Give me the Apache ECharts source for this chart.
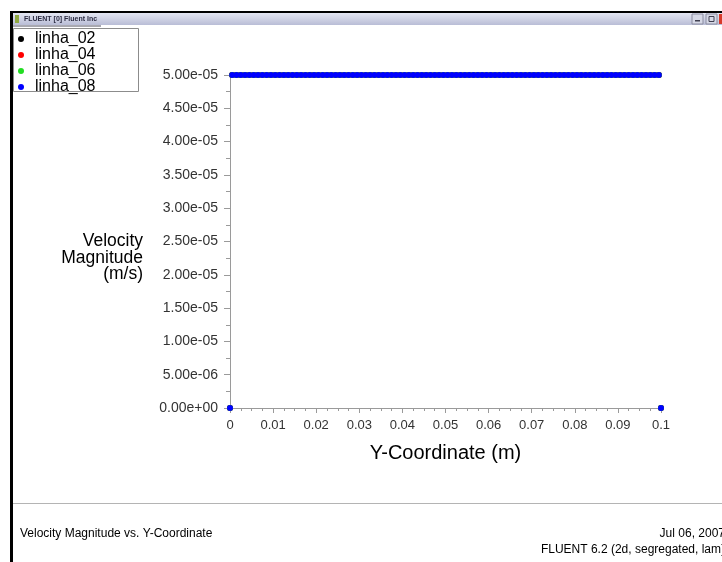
<!DOCTYPE html>
<html>
<head>
<meta charset="utf-8">
<script src="https://cdn.jsdelivr.net/npm/echarts@6/dist/echarts.min.js"></script>
<style>
  html, body { margin: 0; padding: 0; background: #ffffff; }
  #chart { width: 722px; height: 562px; }
</style>
</head>
<body>
<div id="chart"></div>
<script>
// Series shown in the XY plot (all four lines share the same profile; linha_08 is drawn last)
const seriesNames = ['linha_02', 'linha_04', 'linha_06', 'linha_08'];
const seriesColors = ['#000000', '#ff0000', '#22dd22', '#0000ff'];

// Y-coordinate of the wall nodes and cell centres (m)
const yCoord = [
  0,
  0.0005, 0.0015, 0.0025, 0.0035, 0.0045, 0.0055, 0.0065, 0.0075, 0.0085, 0.0095,
  0.0105, 0.0115, 0.0125, 0.0135, 0.0145, 0.0155, 0.0165, 0.0175, 0.0185, 0.0195,
  0.0205, 0.0215, 0.0225, 0.0235, 0.0245, 0.0255, 0.0265, 0.0275, 0.0285, 0.0295,
  0.0305, 0.0315, 0.0325, 0.0335, 0.0345, 0.0355, 0.0365, 0.0375, 0.0385, 0.0395,
  0.0405, 0.0415, 0.0425, 0.0435, 0.0445, 0.0455, 0.0465, 0.0475, 0.0485, 0.0495,
  0.0505, 0.0515, 0.0525, 0.0535, 0.0545, 0.0555, 0.0565, 0.0575, 0.0585, 0.0595,
  0.0605, 0.0615, 0.0625, 0.0635, 0.0645, 0.0655, 0.0665, 0.0675, 0.0685, 0.0695,
  0.0705, 0.0715, 0.0725, 0.0735, 0.0745, 0.0755, 0.0765, 0.0775, 0.0785, 0.0795,
  0.0805, 0.0815, 0.0825, 0.0835, 0.0845, 0.0855, 0.0865, 0.0875, 0.0885, 0.0895,
  0.0905, 0.0915, 0.0925, 0.0935, 0.0945, 0.0955, 0.0965, 0.0975, 0.0985, 0.0995,
  0.1
];

// Velocity magnitude at each node (m/s): zero on the walls, uniform inside
const velocity = [
  0,
  5e-5, 5e-5, 5e-5, 5e-5, 5e-5, 5e-5, 5e-5, 5e-5, 5e-5, 5e-5,
  5e-5, 5e-5, 5e-5, 5e-5, 5e-5, 5e-5, 5e-5, 5e-5, 5e-5, 5e-5,
  5e-5, 5e-5, 5e-5, 5e-5, 5e-5, 5e-5, 5e-5, 5e-5, 5e-5, 5e-5,
  5e-5, 5e-5, 5e-5, 5e-5, 5e-5, 5e-5, 5e-5, 5e-5, 5e-5, 5e-5,
  5e-5, 5e-5, 5e-5, 5e-5, 5e-5, 5e-5, 5e-5, 5e-5, 5e-5, 5e-5,
  5e-5, 5e-5, 5e-5, 5e-5, 5e-5, 5e-5, 5e-5, 5e-5, 5e-5, 5e-5,
  5e-5, 5e-5, 5e-5, 5e-5, 5e-5, 5e-5, 5e-5, 5e-5, 5e-5, 5e-5,
  5e-5, 5e-5, 5e-5, 5e-5, 5e-5, 5e-5, 5e-5, 5e-5, 5e-5, 5e-5,
  5e-5, 5e-5, 5e-5, 5e-5, 5e-5, 5e-5, 5e-5, 5e-5, 5e-5, 5e-5,
  5e-5, 5e-5, 5e-5, 5e-5, 5e-5, 5e-5, 5e-5, 5e-5, 5e-5, 5e-5,
  0
];

// Axis ranges and steps
const xRange = { min: 0, max: 0.1, step: 0.01 };
const yRange = { min: 0, max: 5e-5, step: 5e-6 };

// Axis titles
const xTitle = 'Y-Coordinate (m)';
const yTitle = 'Velocity\nMagnitude\n(m/s)';

const FONT = '"Liberation Sans", Arial, Helvetica, sans-serif';
const AXIS_GREY = '#9a9a9a';

// FLUENT-style exponent labels: 5.00e-05, 0.00e+00
function sciLabel(v) {
  const parts = Number(v).toExponential(2).split('e');
  const sign = parts[1].charAt(0) === '-' ? '-' : '+';
  let digits = parts[1].replace(/[+-]/, '');
  if (digits.length < 2) digits = '0' + digits;
  return parts[0] + 'e' + sign + digits;
}

const points = yCoord.map((y, i) => [y, velocity[i]]);

const chart = echarts.init(document.getElementById('chart'), null, { renderer: 'canvas' });

chart.setOption({
  backgroundColor: '#ffffff',
  animation: false,
  textStyle: { fontFamily: FONT },
  grid: { left: 230, right: 61, top: 75, bottom: 154, containLabel: false },
  legend: {
    orient: 'vertical',
    left: 18,
    top: 31,
    padding: 0,
    itemGap: 0,
    itemWidth: 18,
    itemHeight: 6,
    icon: 'circle',
    selectedMode: false,
    textStyle: { fontFamily: FONT, fontSize: 16, lineHeight: 15, color: '#000000' },
    data: seriesNames
  },
  xAxis: {
    type: 'value',
    min: xRange.min,
    max: xRange.max,
    interval: xRange.step,
    name: xTitle,
    nameLocation: 'middle',
    nameGap: 35,
    nameTextStyle: { fontFamily: FONT, fontSize: 20, color: '#000000' },
    axisLine: { show: true, onZero: false, lineStyle: { color: AXIS_GREY, width: 1 } },
    axisTick: { show: true, inside: false, length: 5, lineStyle: { color: AXIS_GREY } },
    minorTick: { show: true, splitNumber: 4, length: 3, lineStyle: { color: AXIS_GREY } },
    axisLabel: { fontFamily: FONT, fontSize: 13, color: '#333333', margin: 11 },
    splitLine: { show: false },
    minorSplitLine: { show: false }
  },
  yAxis: {
    type: 'value',
    min: yRange.min,
    max: yRange.max,
    interval: yRange.step,
    axisLine: { show: true, onZero: false, lineStyle: { color: AXIS_GREY, width: 1 } },
    axisTick: { show: true, inside: false, length: 6, lineStyle: { color: AXIS_GREY } },
    minorTick: { show: true, splitNumber: 2, length: 4, lineStyle: { color: AXIS_GREY } },
    axisLabel: { fontFamily: FONT, fontSize: 14, color: '#333333', margin: 12, formatter: sciLabel },
    splitLine: { show: false },
    minorSplitLine: { show: false }
  },
  series: seriesNames.map((name, i) => ({
    name: name,
    type: 'scatter',
    data: points,
    symbol: 'circle',
    symbolSize: 6,
    clip: false,
    itemStyle: { color: seriesColors[i], opacity: 1 },
    emphasis: { disabled: true }
  })),
  graphic: [
    // window frame: top edge, title bar and left edge
    { type: 'rect', shape: { x: 10, y: 11, width: 712, height: 2 }, style: { fill: '#000000' }, silent: true },
    {
      type: 'rect', shape: { x: 10, y: 13, width: 712, height: 12 }, silent: true,
      style: {
        fill: new echarts.graphic.LinearGradient(0, 0, 0, 1, [
          { offset: 0, color: '#e4e6f2' },
          { offset: 1, color: '#b9bdd6' }
        ])
      }
    },
    { type: 'rect', shape: { x: 13, y: 25, width: 88, height: 2 }, style: { fill: '#a8a8b0' }, silent: true },
    { type: 'rect', shape: { x: 15, y: 15, width: 4, height: 8 }, style: { fill: '#8fa840' }, silent: true },
    {
      type: 'text', x: 24, y: 19, silent: true,
      style: { text: 'FLUENT [0] Fluent Inc', fontFamily: FONT, fontSize: 7, fontWeight: 'bold', fill: '#2a2a40', verticalAlign: 'middle' }
    },
    { type: 'rect', shape: { x: 692, y: 14, width: 11, height: 10 }, style: { fill: '#d6d8e6', stroke: '#8a8ca0', lineWidth: 1 }, silent: true },
    { type: 'rect', shape: { x: 706, y: 14, width: 11, height: 10 }, style: { fill: '#d6d8e6', stroke: '#8a8ca0', lineWidth: 1 }, silent: true },
    { type: 'rect', shape: { x: 695, y: 20, width: 5, height: 1.5 }, style: { fill: '#404050' }, silent: true },
    { type: 'rect', shape: { x: 709, y: 16.5, width: 5, height: 5 }, style: { fill: 'none', stroke: '#404050', lineWidth: 1 }, silent: true },
    { type: 'rect', shape: { x: 719, y: 14, width: 3, height: 10 }, style: { fill: '#d83a2a' }, silent: true },
    { type: 'rect', shape: { x: 10, y: 11, width: 3, height: 551 }, style: { fill: '#000000' }, silent: true },
    // legend frame
    { type: 'rect', shape: { x: 13.5, y: 28.5, width: 125, height: 63 }, style: { fill: 'none', stroke: '#8c8c8c', lineWidth: 1 }, silent: true, z: -1 },
    // y-axis title, right-aligned beside the tick labels
    {
      type: 'text', x: 143, y: 258, silent: true,
      style: {
        text: yTitle, fontFamily: FONT, fontSize: 17.5, lineHeight: 16.5, fill: '#000000',
        align: 'right', verticalAlign: 'middle'
      }
    },
    // footer separator and captions
    { type: 'rect', shape: { x: 13, y: 503, width: 709, height: 1 }, style: { fill: '#b4b4b4' }, silent: true },
    {
      type: 'text', x: 20, y: 534, silent: true,
      style: { text: 'Velocity Magnitude vs. Y-Coordinate', fontFamily: FONT, fontSize: 12, fill: '#000000', verticalAlign: 'middle' }
    },
    {
      type: 'text', x: 725, y: 534, silent: true,
      style: { text: 'Jul 06, 2007', fontFamily: FONT, fontSize: 12, fill: '#000000', align: 'right', verticalAlign: 'middle' }
    },
    {
      type: 'text', x: 725, y: 550, silent: true,
      style: { text: 'FLUENT 6.2 (2d, segregated, lam)', fontFamily: FONT, fontSize: 12, fill: '#000000', align: 'right', verticalAlign: 'middle' }
    }
  ]
});
</script>
</body>
</html>
